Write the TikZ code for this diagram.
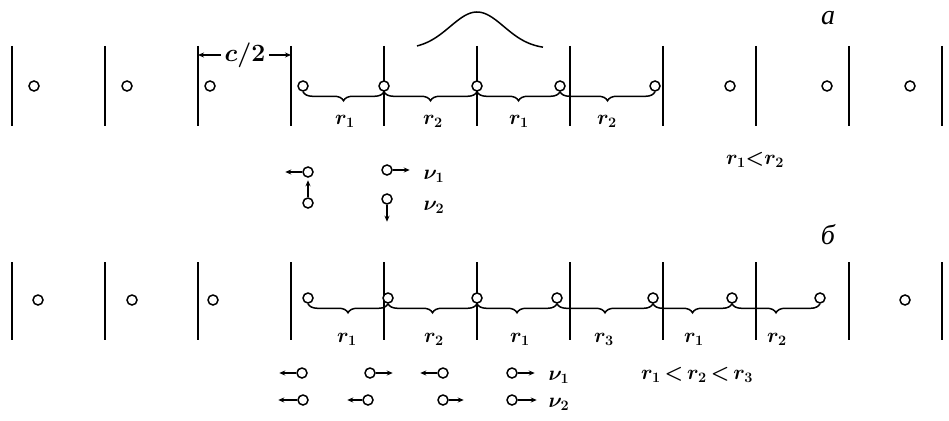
\documentclass[tikz,border=0pt]{standalone}
\usepackage{fontspec}
\newfontfamily\cyrfont{Liberation Serif}
\usetikzlibrary{arrows.meta,decorations.pathreplacing}

\begin{document}
\begin{tikzpicture}[x=1pt,y=-1pt,
    wall/.style={line width=1.5pt},
    atom/.style={circle,draw,fill=white,line width=1.5pt,inner sep=0pt,minimum size=10pt},
    bond/.style={line width=1.5pt,decorate,decoration={brace,mirror,amplitude=9pt}},
    lab/.style={font=\fontsize{22}{24}\selectfont\boldmath},
    tit/.style={font=\fontsize{28}{30}\selectfont\cyrfont\itshape},
    vib/.style={line width=1.4pt,-{Stealth[length=6pt,width=5pt]}}]
    \useasboundingbox (0,0) rectangle (949,420);
    % chain a
    \node[tit] (tita) at (828,18) {а};
    \foreach \x in {12,105,...,942} \draw[wall] (\x,46) -- (\x,126);
    \foreach \x [count=\i] in {34,127,210,730,827,910} \node[atom] (fa\i) at (\x,86) {};
    \node[atom] (a1) at (303,86) {};
    \node[atom] (a2) at (384,86) {};
    \node[atom] (a3) at (477,86) {};
    \node[atom] (a4) at (560,86) {};
    \node[atom] (a5) at (655,86) {};
    \draw[bond] (a1.south) -- (a2.south);
    \draw[bond] (a2.south) -- (a3.south);
    \draw[bond] (a3.south) -- (a4.south);
    \draw[bond] (a4.south) -- (a5.south);
    \node[lab] (ra1) at (345,121) {$r_1$};
    \node[lab] (ra2) at (433,121) {$r_2$};
    \node[lab] (ra3) at (519,121) {$r_1$};
    \node[lab] (ra4) at (607,121) {$r_2$};
    \draw[line width=1.5pt] plot[domain=417:543,samples=60] (\x,{49-37*exp(-((\x-477)/38)*((\x-477)/38))});
    \node[lab,font=\fontsize{25}{27}\selectfont\boldmath] (chalf) at (245,55) {$c/2$};
    \coordinate (dl) at (198,55);
    \coordinate (dr) at (291,55);
    \draw[vib] (chalf.west) -- (dl);
    \draw[vib] (chalf.east) -- (dr);
    \node[lab] (rela) at (755,160) {$r_1{<}r_2$};
    % modes a
    \node[atom] (va1) at (308,172) {};
    \node[atom] (va2) at (308,203) {};
    \node[atom] (va3) at (387,170) {};
    \node[atom] (va4) at (387,199) {};
    \draw[vib] (va1.west) -- ++(-17,0);
    \draw[vib] (va2.north) -- ++(0,-17);
    \draw[vib] (va3.east) -- ++(17,0);
    \draw[vib] (va4.south) -- ++(0,17);
    \node[lab] (nua1) at (434,176) {$\nu_1$};
    \node[lab] (nua2) at (434,207) {$\nu_2$};
    % chain b
    \node[tit] (titb) at (828,235) {б};
    \foreach \x in {12,105,...,942} \draw[wall] (\x,262) -- (\x,340);
    \foreach \x [count=\i] in {38,132,213,905} \node[atom] (fb\i) at (\x,300) {};
    \node[atom] (b1) at (308,298) {};
    \node[atom] (b2) at (388,298) {};
    \node[atom] (b3) at (477,298) {};
    \node[atom] (b4) at (557,298) {};
    \node[atom] (b5) at (653,298) {};
    \node[atom] (b6) at (732,298) {};
    \node[atom] (b7) at (820,298) {};
    \draw[bond] (b1.south) -- (b2.south);
    \draw[bond] (b2.south) -- (b3.south);
    \draw[bond] (b3.south) -- (b4.south);
    \draw[bond] (b4.south) -- (b5.south);
    \draw[bond] (b5.south) -- (b6.south);
    \draw[bond] (b6.south) -- (b7.south);
    \node[lab] (rb1) at (347,339) {$r_1$};
    \node[lab] (rb2) at (434,339) {$r_2$};
    \node[lab] (rb3) at (520,339) {$r_1$};
    \node[lab] (rb4) at (604,339) {$r_3$};
    \node[lab] (rb5) at (694,339) {$r_1$};
    \node[lab] (rb6) at (777,339) {$r_2$};
    \node[lab] (relb) at (697,375) {$r_1\,{<}\,r_2\,{<}\,r_3$};
    % modes b
    \node[atom] (vb1) at (302,373) {};
    \node[atom] (vb2) at (370,373) {};
    \node[atom] (vb3) at (443,373) {};
    \node[atom] (vb4) at (512,373) {};
    \draw[vib] (vb1.west) -- ++(-17,0);
    \draw[vib] (vb2.east) -- ++(17,0);
    \draw[vib] (vb3.west) -- ++(-17,0);
    \draw[vib] (vb4.east) -- ++(17,0);
    \node[atom] (wb1) at (303,400) {};
    \node[atom] (wb2) at (368,400) {};
    \node[atom] (wb3) at (443,400) {};
    \node[atom] (wb4) at (512,400) {};
    \draw[vib] (wb1.west) -- ++(-19,0);
    \draw[vib] (wb2.west) -- ++(-15,0);
    \draw[vib] (wb3.east) -- ++(15,0);
    \draw[vib] (wb4.east) -- ++(19,0);
    \node[lab] (nub1) at (559,377) {$\nu_1$};
    \node[lab] (nub2) at (559,404) {$\nu_2$};
\end{tikzpicture}
\end{document}
